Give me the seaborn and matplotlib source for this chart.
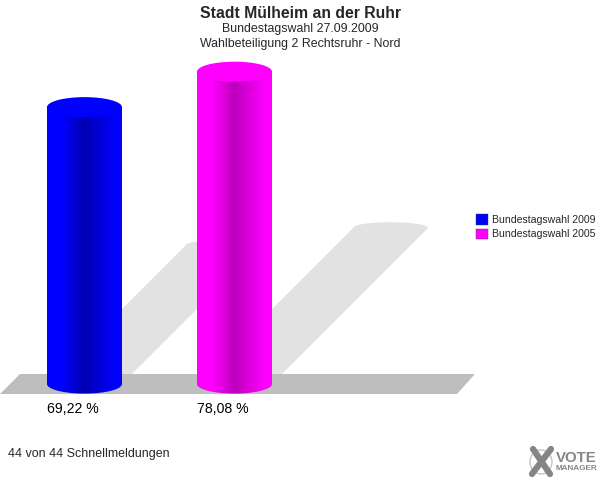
import numpy as np
import pandas as pd
import seaborn as sns
import matplotlib.pyplot as plt
from matplotlib.patches import Ellipse, Polygon, Patch, PathPatch
from matplotlib.path import Path
from matplotlib.colors import LinearSegmentedColormap

series = ['Bundestagswahl 2009', 'Bundestagswahl 2005']
values = [69.22, 78.08]
colors = ['#0000ff', '#ff00ff']
dark_colors = ['#0000b0', '#bc00bc']
title = 'Stadt Mülheim an der Ruhr'
subtitle1 = 'Bundestagswahl 27.09.2009'
subtitle2 = 'Wahlbeteiligung 2 Rechtsruhr - Nord'
footer = '44 von 44 Schnellmeldungen'

sns.set_style('white')
plt.rcParams['font.family'] = ['Liberation Sans', 'DejaVu Sans']

fig = plt.figure(figsize=(6, 4.8), dpi=100)
ax = fig.add_axes([0, 0, 1, 1])

df = pd.DataFrame({'series': series, 'value': values})
sns.barplot(data=df, x='series', y='value', hue='series', palette=colors,
            dodge=False, width=0.5, legend=False, linewidth=0, ax=ax)

# whole figure is the axes: 150px per category, 4px per percent
ax.set_xlim(-84.5 / 150, (600 - 84.5) / 150)
ax.set_ylim(-24, 96)
ax.axis('off')

x_unit = 1 / 150   # data per px


def fx(px):
    return px / 600


def fy(px):
    return 1 - px / 480


# floor
ax.add_patch(Polygon([(-84.5 * x_unit, -2.5), (-64.5 * x_unit, 2.5),
                      ((475 - 84.5) * x_unit, 2.5), ((457 - 84.5) * x_unit, -2.5)],
                     closed=True, fc='#bebebe', ec='none', zorder=2))

bars = [c[0] for c in ax.containers]
for i, bar in enumerate(bars):
    x0 = bar.get_x()
    w = bar.get_width()
    h = bar.get_height()
    xc = x0 + w / 2
    bar.set_zorder(3)
    bar.set_edgecolor('none')

    # shadow on the ground, sheared 45 degrees
    dy = h / 2
    dx = dy * 4 / 150
    t = np.linspace(np.pi, 0, 40)
    arc_x = xc + dx + w / 2 * np.cos(t)
    arc_y = dy + 1.4 * np.sin(t)
    pts = [(x0, 0)] + list(zip(arc_x, arc_y)) + [(x0 + w, 0)]
    ax.add_patch(Polygon(pts, closed=True, fc='#e2e2e2', ec='none', zorder=1))

    # body gradient, clipped to rectangle + round bottom
    cmap = LinearSegmentedColormap.from_list(
        'cyl', [(0, colors[i]), (0.2, colors[i]), (0.5, dark_colors[i]),
                (0.92, colors[i]), (1, colors[i])])
    im = ax.imshow(np.linspace(0, 1, 150).reshape(1, -1), cmap=cmap, aspect='auto',
                   extent=[x0, x0 + w, -2.6, h], zorder=4)
    t = np.linspace(np.pi, 2 * np.pi, 40)
    outline = [(x0, h)] + list(zip(xc + w / 2 * np.cos(t), 2.4 * np.sin(t))) + [(x0 + w, h), (x0, h)]
    clip = PathPatch(Path(outline), transform=ax.transData, fc='none', ec='none')
    ax.add_patch(clip)
    im.set_clip_path(clip)

    # top cap
    ax.add_patch(Ellipse((xc, h), w, 5, fc=colors[i], ec='none', zorder=5))

    label = f'{values[i]:.2f}'.replace('.', ',') + ' %'
    ax.text(x0, -6.2, label, ha='left', va='center', fontsize=10.2, color='black', zorder=6)

ax.set_xlim(-84.5 / 150, (600 - 84.5) / 150)
ax.set_ylim(-24, 96)

fig.text(0.5, fy(13.5), title, ha='center', va='center', fontsize=11.3, fontweight='bold')
fig.text(0.5, fy(29), subtitle1, ha='center', va='center', fontsize=8.9)
fig.text(0.5, fy(44), subtitle2, ha='center', va='center', fontsize=8.9)
fig.text(fx(8), fy(454.5), footer, ha='left', va='center', fontsize=9)

handles = [Patch(fc=c, ec='#404040', lw=0.3) for c in colors]
fig.legend(handles, series, loc='upper left', bbox_to_anchor=(fx(474), fy(212)),
           frameon=False, fontsize=7.6, handlelength=1.15, handleheight=1.15,
           handletextpad=0.4, labelspacing=0.35, borderpad=0.2, borderaxespad=0)

# logo
logo = '#858585'
fig.add_artist(Ellipse((fx(541), fy(462)), 22 / 600, 24 / 480, fc='none', ec='#c4c4c4', lw=1,
                       transform=fig.transFigure))
fig.add_artist(plt.Line2D([fx(532), fx(551)], [fy(474), fy(449)], color=logo, lw=4.5,
                          transform=fig.transFigure))
fig.add_artist(plt.Line2D([fx(533), fx(550)], [fy(449), fy(474)], color=logo, lw=4.5,
                          transform=fig.transFigure))
fig.text(fx(556), fy(458), 'VOTE', ha='left', va='center', fontsize=10.8,
         fontweight='bold', color=logo)
fig.text(fx(556), fy(468), 'MANAGER', ha='left', va='center', fontsize=5.9,
         fontweight='bold', color=logo)

fig.savefig('out.png', dpi=100)
